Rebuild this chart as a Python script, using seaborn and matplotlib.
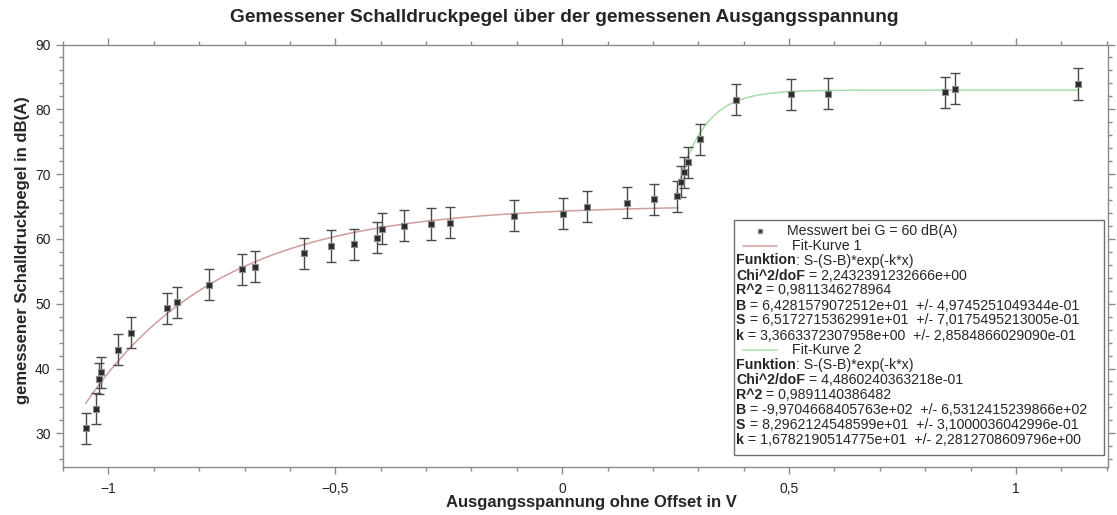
import numpy as np
import matplotlib
matplotlib.use("Agg")
import matplotlib.pyplot as plt
import seaborn as sns
from matplotlib.ticker import MultipleLocator, FuncFormatter
from matplotlib.patches import Rectangle
from matplotlib.lines import Line2D

# Messwerte: Ausgangsspannung (V) und Schalldruckpegel (dB(A))
spannung = [-1.050, -1.028, -1.020, -1.016, -0.979, -0.951, -0.871, -0.849,
            -0.778, -0.705, -0.677, -0.568, -0.509, -0.458, -0.407, -0.398,
            -0.348, -0.288, -0.247, -0.106, 0.002, 0.054, 0.144, 0.203,
            0.254, 0.261, 0.269, 0.277, 0.304, 0.383, 0.505, 0.585,
            0.844, 0.865, 1.136]
pegel = [30.8, 33.8, 38.4, 39.4, 42.9, 45.5, 49.3, 50.2,
         52.9, 55.3, 55.7, 57.8, 58.9, 59.2, 60.2, 61.6,
         62.0, 62.3, 62.5, 63.6, 63.9, 65.0, 65.6, 66.1,
         66.6, 68.8, 70.3, 71.8, 75.4, 81.5, 82.3, 82.4,
         82.6, 83.2, 83.9]
pegel_fehler = 2.4

# Fit-Parameter  S - (S - B) * exp(-k * x)
fit1 = dict(B=6.4281579072512e+01, S=6.5172715362991e+01, k=3.3663372307958e+00)
fit2 = dict(B=-9.9704668405763e+02, S=8.2962124548599e+01, k=1.6782190514775e+01)
fit1_bereich = (-1.050, 0.256)
fit2_bereich = (0.250, 1.136)

fit1_text = [("Funktion", ": S-(S-B)*exp(-k*x)"),
             ("Chi^2/doF", " = 2,2432391232666e+00"),
             ("R^2", " = 0,9811346278964"),
             ("B", " = 6,4281579072512e+01  +/- 4,9745251049344e-01"),
             ("S", " = 6,5172715362991e+01  +/- 7,0175495213005e-01"),
             ("k", " = 3,3663372307958e+00  +/- 2,8584866029090e-01")]
fit2_text = [("Funktion", ": S-(S-B)*exp(-k*x)"),
             ("Chi^2/doF", " = 4,4860240363218e-01"),
             ("R^2", " = 0,9891140386482"),
             ("B", " = -9,9704668405763e+02  +/- 6,5312415239866e+02"),
             ("S", " = 8,2962124548599e+01  +/- 3,1000036042996e-01"),
             ("k", " = 1,6782190514775e+01  +/- 2,2812708609796e+00")]

sns.set_theme(style="ticks")
plt.rcParams["font.family"] = ["Liberation Sans", "DejaVu Sans"]

W, H = 1117, 515
fig = plt.figure(figsize=(W / 100, H / 100), dpi=100)
ax_l, ax_r, ax_t, ax_b = 63, 1108, 44.5, 467
ax = fig.add_axes([ax_l / W, 1 - ax_b / H, (ax_r - ax_l) / W, (ax_b - ax_t) / H])


def fitkurve(p, lo, hi):
    x = np.linspace(lo, hi, 400)
    return x, p["S"] - (p["S"] - p["B"]) * np.exp(-p["k"] * x)


rot = "#d09c9c"
gruen = "#a6dca6"
x1, y1 = fitkurve(fit1, *fit1_bereich)
x2, y2 = fitkurve(fit2, *fit2_bereich)
sns.lineplot(x=x1, y=y1, color=rot, lw=1.1, ax=ax, zorder=2)
sns.lineplot(x=x2, y=y2, color=gruen, lw=1.1, ax=ax, zorder=2)

ax.errorbar(spannung, pegel, yerr=pegel_fehler, fmt="none", ecolor="#4a4a4a",
            elinewidth=1.0, capsize=3.5, capthick=1.0, zorder=3)
sns.scatterplot(x=spannung, y=pegel, marker="s", s=18, color="#2b2b2b",
                edgecolor="#8c8c8c", linewidth=0.8, zorder=4, ax=ax)

ax.set_xlim(-1.1, 1.203)
ax.set_ylim(24.8, 90)
ax.xaxis.set_major_locator(MultipleLocator(0.5))
ax.xaxis.set_minor_locator(MultipleLocator(0.1))
ax.yaxis.set_major_locator(MultipleLocator(10))
ax.yaxis.set_minor_locator(MultipleLocator(2))


def komma(v, pos):
    s = f"{v:g}".replace(".", ",")
    return s.replace("-", "\u2212")


ax.xaxis.set_major_formatter(FuncFormatter(komma))
ax.yaxis.set_major_formatter(FuncFormatter(komma))
ax.tick_params(which="both", direction="out", top=True, right=True,
               color="#8a8a8a", width=1.0, labelsize=10, labelcolor="#222222")
ax.tick_params(which="major", length=5)
ax.tick_params(axis="x", which="major", pad=6)
ax.tick_params(axis="y", which="major", pad=4)
ax.tick_params(which="minor", length=3)
for sp in ax.spines.values():
    sp.set_color("#8a8a8a")
    sp.set_linewidth(1.0)
ax.grid(False)

ax.set_xlabel("Ausgangsspannung ohne Offset in V", fontsize=12,
              fontweight="bold")
ax.xaxis.set_label_coords((591 - ax_l) / (ax_r - ax_l), -(503 - ax_b) / (ax_b - ax_t))
ax.set_ylabel("gemessener Schalldruckpegel in dB(A)", fontsize=12,
              fontweight="bold")
ax.yaxis.set_label_coords(-(ax_l - 23) / (ax_r - ax_l), (ax_b - 250) / (ax_b - ax_t))
ax.xaxis.label.set_va("center")
ax.yaxis.label.set_va("center")
fig.text(564 / W, 1 - 18 / H,
         "Gemessener Schalldruckpegel über der gemessenen Ausgangsspannung",
         ha="center", va="center", fontsize=13.8, fontweight="bold")

# Legendenkasten mit Fit-Ergebnissen
ft = fig.transFigure


def fx(px):
    return px / W


def fy(py):
    return 1 - py / H


ax.add_patch(Rectangle((fx(734), fy(455)), fx(1104) - fx(734), fy(220) - fy(455),
                       transform=ft, facecolor="white", edgecolor="#6e6e6e",
                       lw=1.0, zorder=5, clip_on=False))
fs = 10.2
ax.add_line(Line2D([fx(760)], [fy(231.5)], transform=ft, marker="s",
                   markersize=3, color="#2b2b2b", markeredgecolor="#8c8c8c",
                   zorder=6, clip_on=False))
ax.text(fx(787), fy(231.5), "Messwert bei G = 60 dB(A)", transform=ft,
        va="center", ha="left", fontsize=fs, zorder=6)


def fitblock(y0, name, farbe, zeilen):
    ax.add_line(Line2D([fx(743), fx(777)], [fy(y0), fy(y0)], transform=ft,
                       color=farbe, lw=1.1, zorder=6, clip_on=False))
    ax.text(fx(792), fy(y0), name, transform=ft, va="center", ha="left",
            fontsize=fs, zorder=6)
    for i, (fett, rest) in enumerate(zeilen):
        y = y0 + 15 * (i + 1)
        t = ax.text(fx(736), fy(y), fett, transform=ft, va="center", ha="left",
                    fontsize=fs, fontweight="bold", zorder=6)
        ax.annotate(rest, xy=(1, 0.5), xycoords=t, va="center", ha="left",
                    fontsize=fs, zorder=6, annotation_clip=False)


fitblock(245.5, "Fit-Kurve 1", rot, fit1_text)
fitblock(350.0, "Fit-Kurve 2", gruen, fit2_text)

fig.savefig("out.png", dpi=100)
